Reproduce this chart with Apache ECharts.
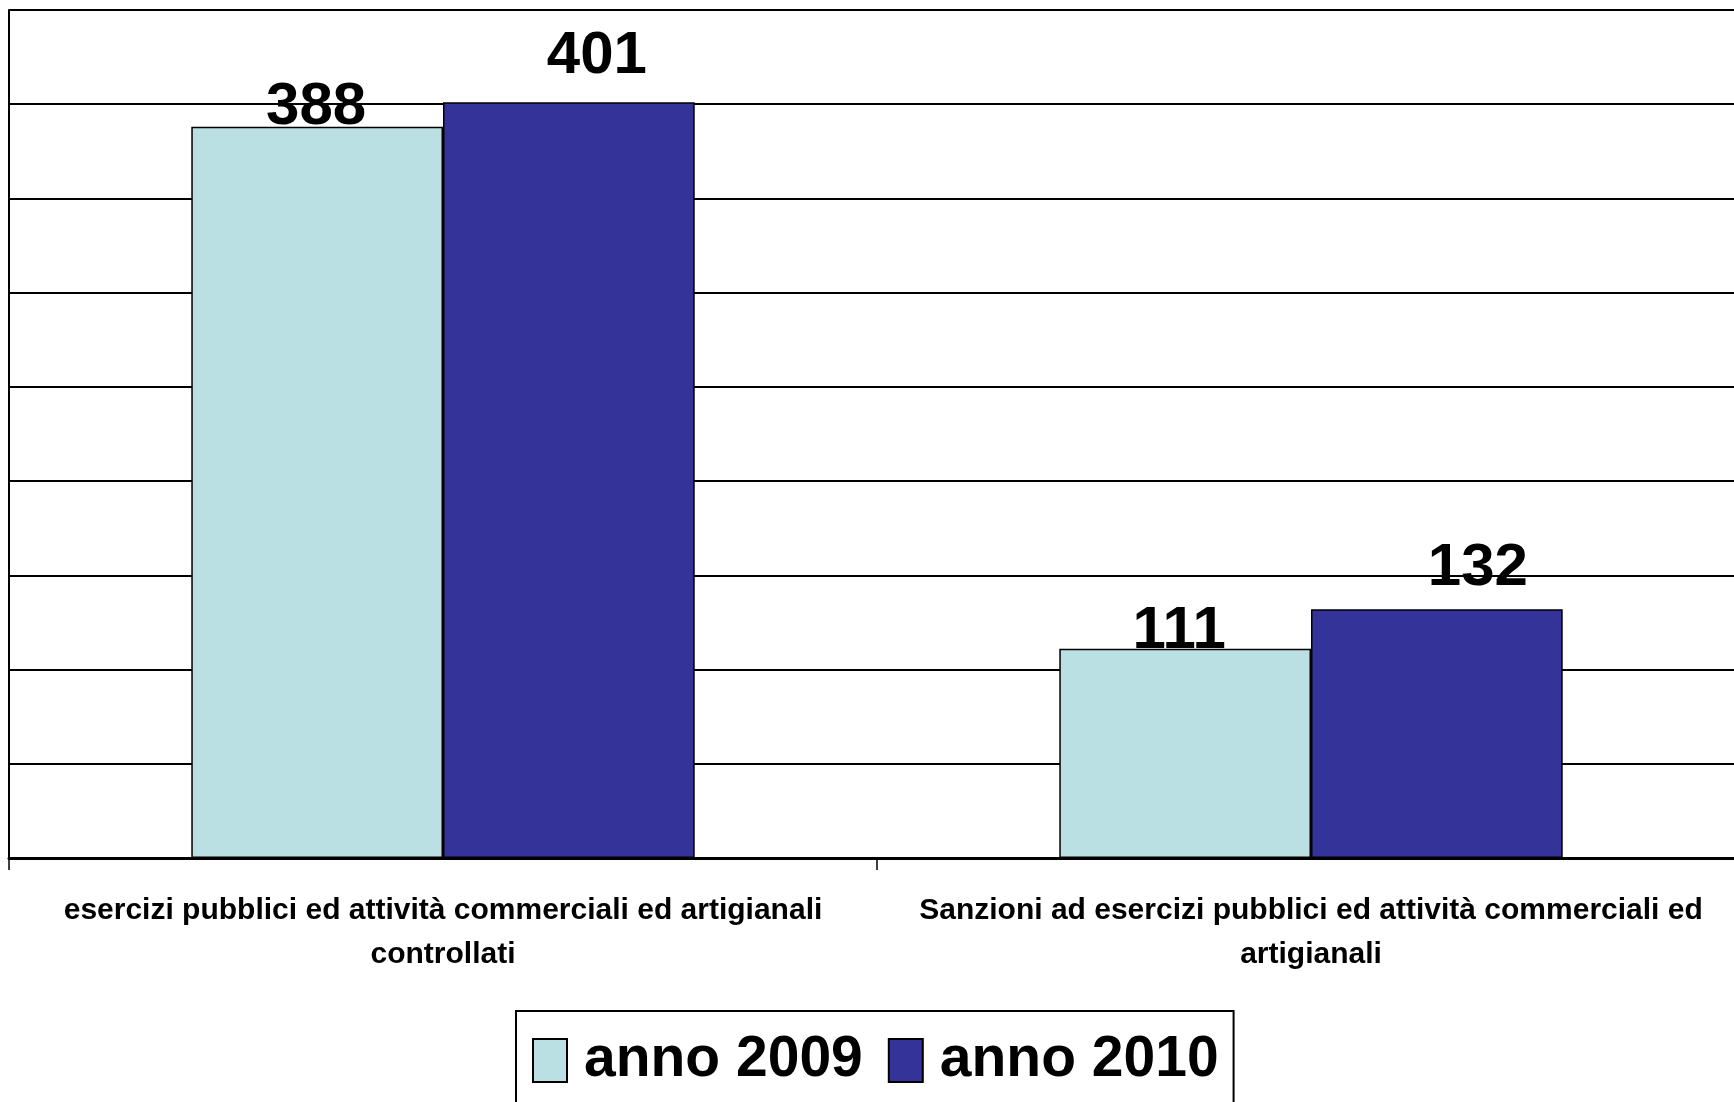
<!DOCTYPE html>
<html>
<head>
<meta charset="utf-8">
<script src="https://cdn.jsdelivr.net/npm/echarts@6/dist/echarts.min.js"></script>
<style>
html,body{margin:0;padding:0;background:#fff;}
#chart{width:1734px;height:1102px;}
</style>
</head>
<body>
<div id="chart"></div>
<script>
const categories = [
  "esercizi pubblici ed attività commerciali ed artigianali\ncontrollati",
  "Sanzioni ad esercizi pubblici ed attività commerciali ed\nartigianali"
];
const seriesNames = ["anno 2009", "anno 2010"];
const values2009 = [388, 111];
const values2010 = [401, 132];
const yMin = 0, yMax = 450, yInterval = 50;

// label nudges (style only)
const labelNudge2009 = [[-1, 11], [-6, 13]];
const labelNudge2010 = [[28, -16], [41, -11]];

const FONT = '"Liberation Sans Narrow", "Arial Narrow", "Liberation Sans", Arial, sans-serif';

function buildData(vals, nudges) {
  return vals.map((v, i) => ({ value: v, label: { offset: nudges[i] } }));
}

const chart = echarts.init(document.getElementById('chart'), null, { renderer: 'canvas' });
chart.setOption({
  backgroundColor: '#ffffff',
  animation: false,
  textStyle: { fontFamily: FONT },
  grid: { left: 9, top: 10, width: 1736, height: 848, containLabel: false, outerBoundsMode: 'none' },
  legend: {
    left: 516, top: 1011,
    orient: 'horizontal',
    itemWidth: 34, itemHeight: 43, itemGap: 25,
    padding: [21, 15, 17, 16],
    borderColor: '#000', borderWidth: 2,
    backgroundColor: '#fff',
    icon: 'rect',
    itemStyle: { borderColor: '#000', borderWidth: 2 },
    textStyle: { fontFamily: FONT, fontWeight: 'bold', fontSize: 57, color: '#000', padding: [10, 0, 0, 12] },
    data: seriesNames
  },
  xAxis: {
    type: 'category',
    data: categories,
    axisLine: { show: true, lineStyle: { color: '#000', width: 3 } },
    axisTick: { show: true, length: 12, lineStyle: { color: '#000', width: 1.5 } },
    axisLabel: { fontFamily: FONT, fontWeight: 'bold', fontSize: 30, lineHeight: 44, color: '#000', margin: 31, interval: 0 },
    splitLine: { show: false }
  },
  yAxis: {
    type: 'value',
    min: yMin, max: yMax, interval: yInterval,
    axisLine: { show: true, lineStyle: { color: '#000', width: 2 } },
    axisTick: { show: false },
    axisLabel: { show: false },
    splitLine: { show: true, lineStyle: { color: '#000', width: 2 } }
  },
  series: [
    {
      name: seriesNames[0], type: 'bar',
      data: buildData(values2009, labelNudge2009),
      barGap: '0%', barCategoryGap: '42%',
      itemStyle: { color: '#BBE0E3', borderColor: '#000', borderWidth: 1.5 },
      label: { show: true, position: 'top', distance: 0, fontFamily: FONT, fontWeight: 'bold', fontSize: 60, color: '#000' }
    },
    {
      name: seriesNames[1], type: 'bar',
      data: buildData(values2010, labelNudge2010),
      barGap: '0%', barCategoryGap: '42%',
      itemStyle: { color: '#333399', borderColor: '#000', borderWidth: 1.5 },
      label: { show: true, position: 'top', distance: 0, fontFamily: FONT, fontWeight: 'bold', fontSize: 60, color: '#000' }
    }
  ]
});
</script>
</body>
</html>
